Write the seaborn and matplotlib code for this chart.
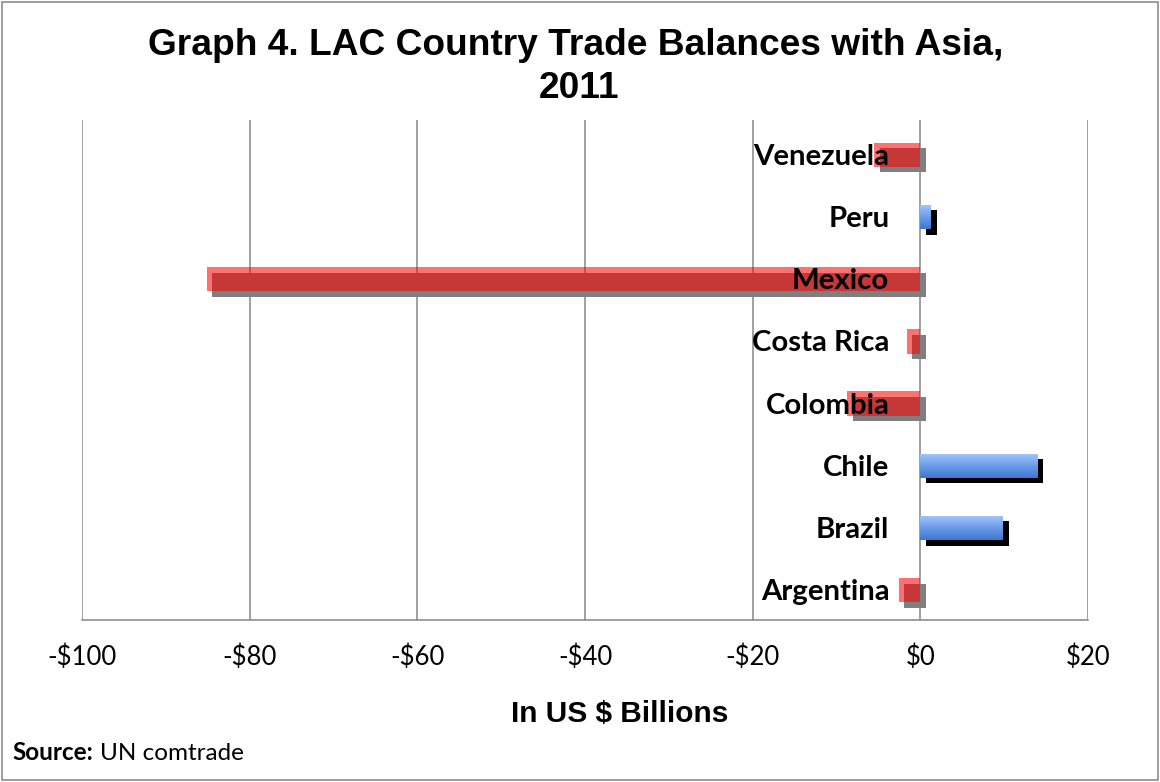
import numpy as np
import pandas as pd
import matplotlib
matplotlib.use("Agg")
import matplotlib.pyplot as plt
import matplotlib.patches as mpatches
import matplotlib.transforms as mtransforms
import seaborn as sns

# Trade balance with Asia, 2011 (US$ billions)
countries = ["Venezuela", "Peru", "Mexico", "Costa Rica", "Colombia", "Chile", "Brazil", "Argentina"]
balances = [-5.5, 1.3, -85.1, -1.6, -8.7, 14.0, 9.9, -2.6]
x_ticks = [-100, -80, -60, -40, -20, 0, 20]
x_tick_labels = ["-$100", "-$80", "-$60", "-$40", "-$20", "$0", "$20"]

df = pd.DataFrame({"country": countries, "balance": balances})
df["sign"] = np.where(df["balance"] < 0, "deficit", "surplus")

sns.set_style("white")
plt.rcParams["font.family"] = ["Lato", "DejaVu Sans"]
plt.rcParams["text.color"] = "black"
plt.rcParams["xtick.color"] = "black"

W, H = 1160, 782
fig = plt.figure(figsize=(W / 100, H / 100), dpi=100)
ax = fig.add_axes([82 / W, 1 - 620 / H, (1088 - 82) / W, 500 / H])

sns.barplot(data=df, y="country", x="balance", hue="sign", orient="h",
            palette={"deficit": (1.0, 0.0, 0.0), "surplus": (0.36, 0.58, 0.9)},
            saturation=1, dodge=False, width=0.39, legend=False, ax=ax, order=countries)

shadow_tf = mtransforms.offset_copy(ax.transData, fig=fig, x=5.5, y=-5.5, units="dots")
blue_grad = np.linspace(0, 1, 64).reshape(-1, 1)
blue_cmap = matplotlib.colors.LinearSegmentedColormap.from_list(
    "bluebar", ["#a4c8fc", "#6d9ce8", "#3c78cf"])

for bar in list(ax.patches):
    x0, y0 = bar.get_x(), bar.get_y()
    w, h = bar.get_width(), bar.get_height()
    if w == 0:
        continue
    negative = w < 0
    shadow = mpatches.Rectangle((x0, y0), w, h, transform=shadow_tf,
                                facecolor="#7f7f7f" if negative else "black",
                                edgecolor="none", zorder=1.5)
    ax.add_patch(shadow)
    bar.set_edgecolor("none")
    bar.set_zorder(2)
    if negative:
        bar.set_alpha(0.56)
    else:
        bar.set_facecolor("none")
        im = ax.imshow(blue_grad, cmap=blue_cmap, aspect="auto",
                       extent=(x0, x0 + w, y0 + h, y0), zorder=2,
                       interpolation="bilinear")
        im.set_clip_path(bar)

ax.set_xlim(-100, 20)
ax.set_ylim(len(countries) - 0.52, -0.56)
ax.set_xticks(x_ticks)
ax.set_xticklabels(x_tick_labels, fontsize=18.5)
ax.set_yticks([])
ax.set_xlabel("")
ax.set_ylabel("")

ax.grid(axis="x", color="#868686", linewidth=1.1, zorder=0.5)
ax.grid(axis="y", visible=False)
ax.set_axisbelow(True)
for side in ["top", "right", "left"]:
    ax.spines[side].set_visible(False)
ax.spines["bottom"].set_color("#868686")
ax.spines["bottom"].set_linewidth(1.1)
ax.tick_params(axis="x", direction="out", length=6, color="#868686", pad=12, labelcolor="black")

# Country names sit just left of the zero line, above the bars
label_tf = mtransforms.offset_copy(ax.transData, fig=fig, x=-31, y=-10, units="dots")
for i, name in enumerate(countries):
    ax.text(0, i, name, transform=label_tf, ha="right", va="baseline",
            fontsize=21.2, fontweight="bold", zorder=5)

arial = ["Liberation Sans", "DejaVu Sans"]
fig.text(576 / W, 1 - 55 / H, "Graph 4. LAC Country Trade Balances with Asia,",
         ha="center", va="baseline", fontsize=26.7, fontweight="bold", family=arial)
fig.text(579 / W, 1 - 98 / H, "2011",
         ha="center", va="baseline", fontsize=26.7, fontweight="bold", family=arial)
fig.text(620 / W, 1 - 722 / H, "In US $ Billions", ha="center", va="baseline",
         fontsize=21.5, fontweight="bold", family=arial)
fig.text(12 / W, 1 - 760 / H, "Source:", ha="left", va="baseline",
         fontsize=17.5, fontweight="bold")
fig.text(100 / W, 1 - 760 / H, "UN comtrade", ha="left", va="baseline",
         fontsize=17.5)

fig.patches.append(mpatches.Rectangle((0.002, 0.003), 0.996, 0.994, transform=fig.transFigure,
                                      fill=False, edgecolor="#8c8c8c", linewidth=1.2))

fig.savefig("out.png", dpi=100, facecolor="white")
